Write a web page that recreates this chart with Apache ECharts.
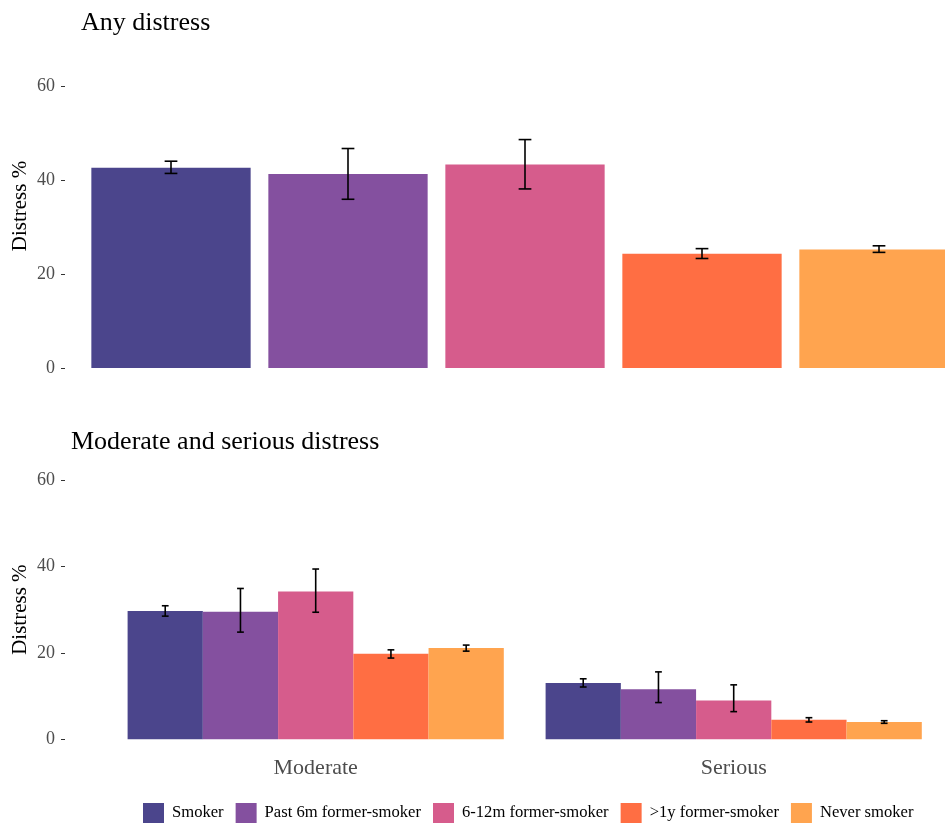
<!DOCTYPE html>
<html>
<head>
<meta charset="utf-8">
<script src="https://cdn.jsdelivr.net/npm/echarts@6/dist/echarts.min.js"></script>
<style>html,body{margin:0;padding:0;background:#fff;}#chart{width:945px;height:824px;}</style>
</head>
<body>
<div id="chart"></div>
<script>
const categories = ['Smoker', 'Past 6m former-smoker', '6-12m former-smoker', '>1y former-smoker', 'Never smoker'];
const colors = ['#4B458C', '#84509F', '#D65C8C', '#FF6E43', '#FFA44F'];
// Any distress
const anyVal  = [42.6, 41.3, 43.3, 24.3, 25.2];
const anyLow  = [41.4, 35.9, 38.1, 23.3, 24.6];
const anyHigh = [44.0, 46.7, 48.6, 25.4, 26.0];
// Moderate and serious distress
const levels = ['Moderate', 'Serious'];
const modVal  = [29.7, 29.5, 34.2, 19.8, 21.1];
const modLow  = [28.5, 24.8, 29.4, 18.8, 20.4];
const modHigh = [30.9, 34.9, 39.4, 20.7, 21.8];
const serVal  = [13.0, 11.6, 9.0, 4.5, 4.0];
const serLow  = [12.1, 8.5, 6.4, 4.0, 3.7];
const serHigh = [14.0, 15.6, 12.6, 5.0, 4.3];
const yMin = 0, yMax = 60, yStep = 20;

const FONT = 'Liberation Serif';
const chart = echarts.init(document.getElementById('chart'));

function yAxisCfg(gridIndex, offset, namePad) {
  return {
    type: 'value', gridIndex: gridIndex, min: yMin, max: yMax, interval: yStep,
    offset: offset,
    name: 'Distress %', nameLocation: 'middle', nameRotate: 90, nameGap: 34,
    nameMoveOverlap: false,
    nameTextStyle: { fontFamily: FONT, fontSize: 21, color: '#000', padding: namePad },
    axisLine: { show: false },
    axisTick: { show: true, length: 4, lineStyle: { color: '#333', width: 1 } },
    axisLabel: { fontFamily: FONT, fontSize: 18, color: '#4d4d4d', margin: 10 },
    splitLine: { show: false }
  };
}

function errItem(params, api, barFrac, nSeries) {
  const cat = api.value(0);
  const sIdx = api.value(1);
  const lo = api.coord([cat, api.value(2)]);
  const hi = api.coord([cat, api.value(3)]);
  const band = api.size([1, 0])[0];
  const bw = band * 0.9 / nSeries;
  const x = lo[0] + (sIdx - (nSeries - 1) / 2) * bw;
  const cap = bw * barFrac;
  const style = { stroke: '#000', lineWidth: 1.6 };
  return {
    type: 'group',
    children: [
      { type: 'line', shape: { x1: x, y1: lo[1], x2: x, y2: hi[1] }, style: style },
      { type: 'line', shape: { x1: x - cap, y1: lo[1], x2: x + cap, y2: lo[1] }, style: style },
      { type: 'line', shape: { x1: x - cap, y1: hi[1], x2: x + cap, y2: hi[1] }, style: style }
    ]
  };
}

const series = [];
categories.forEach((c, i) => {
  series.push({
    type: 'bar', name: c, xAxisIndex: 0, yAxisIndex: 0,
    data: categories.map((_, j) => (j === i ? anyVal[i] : '-')),
    barGap: '-100%', barCategoryGap: '10%',
    itemStyle: { color: colors[i] }, silent: true
  });
});
categories.forEach((c, i) => {
  series.push({
    type: 'bar', name: c, xAxisIndex: 1, yAxisIndex: 1,
    data: [modVal[i], serVal[i]],
    barGap: 0, barCategoryGap: '10%',
    itemStyle: { color: colors[i] }, silent: true
  });
});
series.push({
  type: 'custom', name: 'err-any', xAxisIndex: 0, yAxisIndex: 0,
  renderItem: (p, api) => errItem(p, api, 0.04, 1),
  encode: { x: 0, y: [2, 3] },
  data: categories.map((c, i) => [i, 0, anyLow[i], anyHigh[i]]),
  z: 10, silent: true
});
const errBottom = [];
categories.forEach((c, i) => {
  errBottom.push([0, i, modLow[i], modHigh[i]]);
  errBottom.push([1, i, serLow[i], serHigh[i]]);
});
series.push({
  type: 'custom', name: 'err-sev', xAxisIndex: 1, yAxisIndex: 1,
  renderItem: (p, api) => errItem(p, api, 0.045, 5),
  encode: { x: 0, y: [2, 3] },
  data: errBottom,
  z: 10, silent: true
});

chart.setOption({
  animation: false,
  backgroundColor: '#fff',
  textStyle: { fontFamily: FONT },
  title: [
    { text: 'Any distress', left: 81, top: 10, padding: 0, textStyle: { fontFamily: FONT, fontSize: 26, fontWeight: 'normal', color: '#000' } },
    { text: 'Moderate and serious distress', left: 71, top: 429, padding: 0, textStyle: { fontFamily: FONT, fontSize: 26, fontWeight: 'normal', color: '#000' } }
  ],
  legend: {
    data: categories, left: 143, top: 803, padding: 0, icon: 'rect', itemWidth: 21, itemHeight: 20, itemGap: 12,
    textStyle: { fontFamily: FONT, fontSize: 16.6, color: '#000', padding: [0, 0, 0, 3] },
    selectedMode: false
  },
  grid: [
    { left: 82.5, top: 86, width: 885, height: 282, outerBoundsMode: 'none', containLabel: false },
    { left: 106.7, top: 480, width: 836, height: 259.3, outerBoundsMode: 'none', containLabel: false }
  ],
  xAxis: [
    { type: 'category', gridIndex: 0, data: categories,
      axisLine: { show: false }, axisTick: { show: false }, axisLabel: { show: false } },
    { type: 'category', gridIndex: 1, data: levels,
      axisLine: { show: false }, axisTick: { show: false },
      axisLabel: { fontFamily: FONT, fontSize: 22, color: '#4d4d4d', margin: 18 } }
  ],
  yAxis: [
    yAxisCfg(0, 17.5, [0, 0, 0, 42]),
    yAxisCfg(1, 41.7, [0, 0, 0, 0])
  ],
  series: series
});
</script>
</body>
</html>
